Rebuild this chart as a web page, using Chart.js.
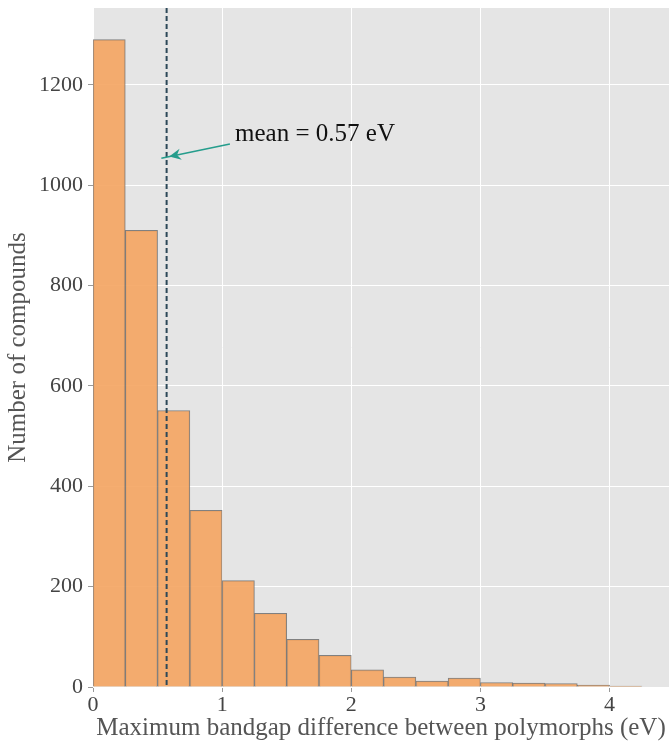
<!DOCTYPE html>
<html>
<head>
<meta charset="utf-8">
<script src="https://cdn.jsdelivr.net/npm/chart.js@4.4.1/dist/chart.umd.min.js"></script>
<style>
  html, body { margin: 0; padding: 0; background: #fff; }
  #wrap { width: 669px; height: 743px; }
</style>
</head>
<body>
<div id="wrap"><canvas id="histChart" width="669" height="743"></canvas></div>
<script>
// bin edges start at 0, width 0.25 eV
const binStarts = [0, 0.25, 0.5, 0.75, 1, 1.25, 1.5, 1.75, 2, 2.25, 2.5, 2.75, 3, 3.25, 3.5, 3.75, 4];
const binWidth = 0.25;
const counts = [1290, 910, 551, 352, 212, 147, 95, 63, 34, 20, 12, 18, 9, 8, 7, 4, 2];
const meanValue = 0.57;
const meanLabel = 'mean = 0.57 eV';
const xTitle = 'Maximum bandgap difference between polymorphs (eV)';
const yTitle = 'Number of compounds';

const serif = '"Liberation Serif", "Times New Roman", serif';

const points = binStarts.map((start, i) => ({ x: start + binWidth / 2, y: counts[i] }));

const plotBackground = {
  id: 'plotBackground',
  beforeDraw(chart) {
    const { ctx, chartArea: a } = chart;
    ctx.save();
    ctx.fillStyle = '#e5e5e5';
    ctx.fillRect(a.left, a.top, a.right - a.left, a.bottom - a.top);
    ctx.restore();
  }
};

const meanMarker = {
  id: 'meanMarker',
  afterDatasetsDraw(chart) {
    const { ctx, chartArea: a, scales } = chart;
    const x = scales.x.getPixelForValue(meanValue);

    ctx.save();
    ctx.strokeStyle = '#2c4858';
    ctx.lineWidth = 2;
    ctx.setLineDash([5, 3]);
    ctx.beginPath();
    ctx.moveTo(x, a.top);
    ctx.lineTo(x, a.bottom);
    ctx.stroke();
    ctx.setLineDash([]);

    // arrow from label to the line
    const hx = scales.x.getPixelForValue(0.59);
    const hy = scales.y.getPixelForValue(1057);
    const tx = scales.x.getPixelForValue(1.06);
    const ty = scales.y.getPixelForValue(1082);
    const ang = Math.atan2(hy - ty, hx - tx);
    ctx.strokeStyle = '#259d8c';
    ctx.fillStyle = '#259d8c';
    ctx.lineWidth = 1.6;
    ctx.beginPath();
    ctx.moveTo(tx, ty);
    ctx.lineTo(hx + 8 * Math.cos(ang), hy + 8 * Math.sin(ang));
    ctx.stroke();
    ctx.beginPath();
    ctx.moveTo(hx, hy);
    ctx.lineTo(hx - 13 * Math.cos(ang - 0.45), hy - 13 * Math.sin(ang - 0.45));
    ctx.lineTo(hx - 8 * Math.cos(ang), hy - 8 * Math.sin(ang));
    ctx.lineTo(hx - 13 * Math.cos(ang + 0.45), hy - 13 * Math.sin(ang + 0.45));
    ctx.closePath();
    ctx.fill();

    ctx.fillStyle = '#111';
    ctx.font = '25px ' + serif;
    ctx.textAlign = 'left';
    ctx.textBaseline = 'middle';
    ctx.fillText(meanLabel, scales.x.getPixelForValue(1.1), scales.y.getPixelForValue(1102));
    ctx.restore();
  }
};

new Chart(document.getElementById('histChart'), {
  type: 'bar',
  data: {
    datasets: [{
      data: points,
      backgroundColor: 'rgba(244,164,96,0.9)',
      borderColor: 'rgba(110,110,110,0.85)',
      borderWidth: 1,
      barPercentage: 1,
      categoryPercentage: 1
    }]
  },
  options: {
    responsive: false,
    animation: false,
    layout: { padding: { top: 8, right: 0, left: 0, bottom: 0 } },
    plugins: { legend: { display: false }, tooltip: { enabled: false } },
    scales: {
      x: {
        type: 'linear',
        min: 0,
        max: 4.46,
        offset: false,
        afterFit(scale) {
          scale.height = 56;
          scale.paddingLeft = 0;
          scale.paddingRight = 0;
        },
        border: { display: false },
        grid: { offset: false, color: '#ffffff', lineWidth: 1, tickColor: '#999', tickLength: 5 },
        ticks: {
          stepSize: 1, includeBounds: false, color: '#444', padding: 0,
          font: { family: serif, size: 22 },
          callback: (v) => String(v)
        },
        title: { display: true, text: xTitle, color: '#555', padding: { top: 0, bottom: 0 }, font: { family: serif, size: 25 } }
      },
      y: {
        min: 0,
        max: 1353,
        afterFit(scale) {
          scale.width = 93;
          scale.paddingTop = 0;
          scale.paddingBottom = 0;
        },
        border: { display: false },
        grid: { color: '#ffffff', lineWidth: 1, tickColor: '#999', tickLength: 5 },
        ticks: {
          stepSize: 200, includeBounds: false, color: '#444', padding: 5,
          font: { family: serif, size: 22 },
          callback: (v) => String(v)
        },
        title: { display: true, text: yTitle, color: '#555', padding: { top: 3, bottom: 0 }, font: { family: serif, size: 25 } }
      }
    }
  },
  plugins: [plotBackground, meanMarker]
});
</script>
</body>
</html>
